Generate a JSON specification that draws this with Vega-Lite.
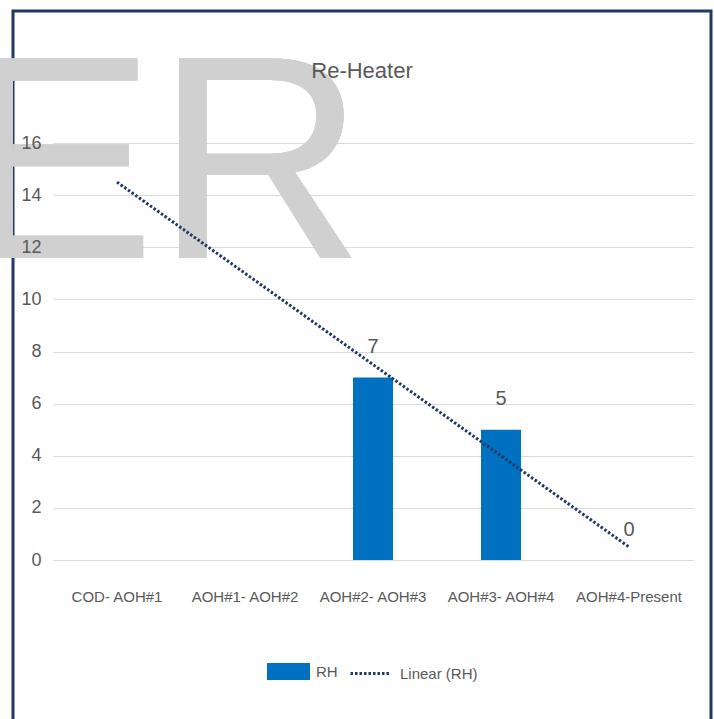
{
  "$schema": "https://vega.github.io/schema/vega-lite/v6.json",
  "width": 698,
  "height": 718,
  "autosize": {"type": "none"},
  "padding": {"left": 13, "top": 11, "right": 3, "bottom": -10},
  "background": "white",
  "title": {
    "text": "Re-Heater",
    "offset": -94,
    "baseline": "bottom",
    "anchor": "middle",
    "frame": "group",
    "font": "Liberation Sans, Arial, sans-serif",
    "fontSize": 22,
    "fontWeight": "normal",
    "color": "#595959"
  },
  "data": {
    "values": [
      {"cat": "COD- AOH#1", "RH": null, "trend": 14.5},
      {"cat": "AOH#1- AOH#2", "RH": null, "trend": 11},
      {"cat": "AOH#2- AOH#3", "RH": 7, "trend": 7.5},
      {"cat": "AOH#3- AOH#4", "RH": 5, "trend": 4},
      {"cat": "AOH#4-Present", "RH": 0, "trend": 0.5}
    ]
  },
  "encoding": {
    "x": {
      "field": "cat",
      "type": "nominal",
      "scale": {
        "domain": ["COD- AOH#1", "AOH#1- AOH#2", "AOH#2- AOH#3", "AOH#3- AOH#4", "AOH#4-Present"],
        "paddingInner": 0.6875,
        "paddingOuter": 0.5703,
        "align": 0.5753
      },
      "axis": {
        "title": null,
        "orient": "bottom",
        "offset": -169,
        "ticks": false,
        "domain": false,
        "grid": false,
        "labelPadding": 29,
        "labelAngle": 0,
        "labelFont": "Liberation Sans, Arial, sans-serif",
        "labelFontSize": 15,
        "labelColor": "#595959"
      }
    }
  },
  "layer": [
    {
      "mark": {
        "type": "text",
        "text": "ER",
        "font": "Liberation Sans, Arial, sans-serif",
        "fontSize": 290,
        "align": "right",
        "baseline": "alphabetic",
        "color": "#d0d0d0",
        "opacity": 0.75
      },
      "encoding": {
        "x": {"datum": "AOH#2- AOH#3", "type": "nominal", "bandPosition": 0.3},
        "y": {
          "datum": 11.59,
          "type": "quantitative",
          "scale": {"domain": [-6.484, 21.065], "nice": false, "zero": false},
          "axis": {
            "title": null,
            "values": [0, 2, 4, 6, 8, 10, 12, 14, 16],
            "orient": "left",
            "offset": -40,
            "domain": false,
            "grid": false,
            "labels": false,
            "ticks": true,
            "tickSize": -640,
            "tickColor": "#d9d9d9",
            "tickWidth": 1,
            "zindex": 0
          }
        }
      }
    },
    {
      "transform": [{"filter": "datum.RH != null"}],
      "mark": {"type": "bar"},
      "encoding": {
        "y": {
          "field": "RH",
          "type": "quantitative",
          "axis": {
            "title": null,
            "values": [0, 2, 4, 6, 8, 10, 12, 14, 16],
            "orient": "left",
            "offset": -40,
            "domain": false,
            "grid": false,
            "ticks": false,
            "labelPadding": 12,
            "labelFont": "Liberation Sans, Arial, sans-serif",
            "labelFontSize": 18,
            "labelColor": "#595959",
            "zindex": 1
          }
        },
        "color": {
          "datum": "RH",
          "type": "nominal",
          "scale": {"range": ["#0070c0"]},
          "legend": {
            "orient": "none",
            "legendX": 254,
            "legendY": 639,
            "title": null,
            "padding": 0,
            "symbolType": "M-1,-0.4H1V0.4H-1Z",
            "symbolSize": 1849,
            "symbolStrokeWidth": 0,
            "symbolOpacity": 1,
            "labelOffset": 6,
            "labelFont": "Liberation Sans, Arial, sans-serif",
            "labelFontSize": 15,
            "labelColor": "#595959"
          }
        }
      }
    },
    {
      "mark": {"type": "line", "color": "#1f3864", "strokeWidth": 3, "strokeCap": "butt"},
      "encoding": {
        "y": {"field": "trend", "type": "quantitative", "axis": null},
        "strokeDash": {
          "datum": "Linear (RH)",
          "type": "nominal",
          "scale": {"range": [[2.5, 2]]},
          "legend": {
            "orient": "none",
            "legendX": 336,
            "legendY": 641.5,
            "title": null,
            "padding": 0,
            "symbolType": "stroke",
            "symbolSize": 1521,
            "symbolStrokeColor": "#1f3864",
            "symbolStrokeWidth": 3,
            "labelOffset": 9,
            "labelFont": "Liberation Sans, Arial, sans-serif",
            "labelFontSize": 15,
            "labelColor": "#595959"
          }
        }
      }
    },
    {
      "transform": [{"filter": "datum.RH != null"}],
      "mark": {
        "type": "text",
        "dy": -24.5,
        "baseline": "alphabetic",
        "font": "Liberation Sans, Arial, sans-serif",
        "fontSize": 20,
        "color": "#595959"
      },
      "encoding": {
        "y": {"field": "RH", "type": "quantitative", "axis": null},
        "text": {"field": "RH", "type": "quantitative"}
      }
    }
  ],
  "resolve": {"axis": {"y": "independent"}},
  "config": {
    "view": {"stroke": "#1f3864", "strokeWidth": 3},
    "axis": {"grid": false}
  }
}
